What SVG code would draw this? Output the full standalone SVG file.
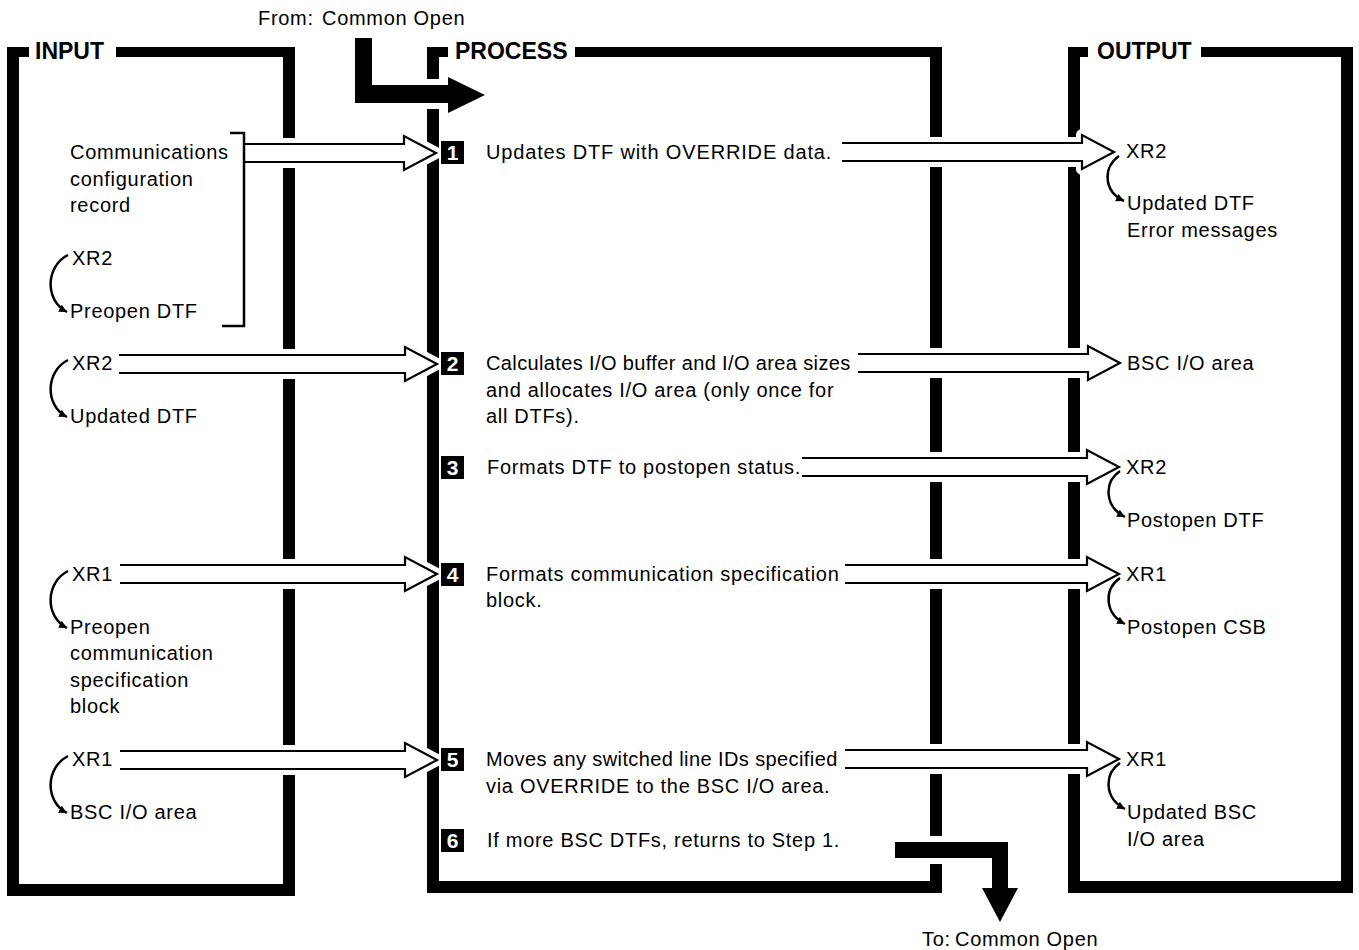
<svg xmlns="http://www.w3.org/2000/svg" width="1359" height="950" viewBox="0 0 1359 950">
<defs>
<style>
.t{font-family:"Liberation Sans",Arial,Helvetica,sans-serif;font-size:20px;letter-spacing:0.7px;fill:#000}
.h{font-family:"Liberation Sans",Arial,Helvetica,sans-serif;font-size:23px;font-weight:bold;fill:#000}
.n{font-family:"Liberation Sans",Arial,Helvetica,sans-serif;font-size:21px;font-weight:bold;fill:#fff;text-anchor:middle}
.bar{fill:#000}
.halo{fill:#fff;stroke:#fff;stroke-width:12;stroke-linejoin:round;stroke-linecap:round}
.hollow{fill:#fff;stroke:#000;stroke-width:2.2;stroke-linejoin:miter}
.solid{fill:#000;stroke:none}
.curve{fill:none;stroke:#000;stroke-width:2.5;marker-end:url(#ah)}
.brk{fill:none;stroke:#000;stroke-width:2.5}
.nb{fill:#000}
</style>
<marker id="ah" markerUnits="userSpaceOnUse" markerWidth="10" markerHeight="10" refX="8" refY="4" orient="auto">
<path d="M0,0 L8,4 L0,8 Z" fill="#000"/>
</marker>
</defs>
<rect width="1359" height="950" fill="#fff"/>

<g id="input">
<rect class="bar" x="7" y="47" width="12" height="849"/>
<rect class="bar" x="7" y="47" width="22" height="10"/>
<rect class="bar" x="116" y="47" width="179" height="10"/>
<rect class="bar" x="283" y="47" width="12" height="849"/>
<rect class="bar" x="7" y="884" width="288" height="12"/>
</g>
<g id="process">
<rect class="bar" x="427" y="47" width="12" height="846"/>
<rect class="bar" x="427" y="47" width="21" height="10"/>
<rect class="bar" x="575" y="47" width="367" height="10"/>
<rect class="bar" x="930" y="47" width="12" height="846"/>
<rect class="bar" x="427" y="881" width="515" height="12"/>
</g>
<g id="output">
<rect class="bar" x="1068" y="47" width="12" height="846"/>
<rect class="bar" x="1068" y="47" width="20" height="10"/>
<rect class="bar" x="1201" y="47" width="152" height="10"/>
<rect class="bar" x="1341" y="47" width="12" height="846"/>
<rect class="bar" x="1068" y="881" width="285" height="12"/>
</g>

<g id="connectors">
<g id="halos">
<path class="halo" d="M 355 38 H 372 V 85 H 448 V 77 L 485 95 L 448 113 V 103 H 355 Z"/>
<path class="halo" d="M 895 842 H 1008 V 888 H 1018 L 1000 922 L 982 888 H 992 V 858 H 895 Z"/>
<path class="halo" d="M 244 144 H 404 V 136 L 436 153 L 404 170 V 162 H 244"/>
<path class="halo" d="M 842 143 H 1082 V 135 L 1114 152 L 1082 169 V 161 H 842"/>
<path class="halo" d="M 119 355 H 405 V 347 L 437 364 L 405 381 V 373 H 119"/>
<path class="halo" d="M 858 354 H 1088 V 346 L 1120 363 L 1088 380 V 372 H 858"/>
<path class="halo" d="M 802 458 H 1087 V 450 L 1119 467 L 1087 484 V 476 H 802"/>
<path class="halo" d="M 845 565 H 1087 V 557 L 1119 574 L 1087 591 V 583 H 845"/>
<path class="halo" d="M 120 565 H 405 V 557 L 437 574 L 405 591 V 583 H 120"/>
<path class="halo" d="M 120 751 H 405 V 743 L 437 760 L 405 777 V 769 H 120"/>
<path class="halo" d="M 845 750 H 1087 V 742 L 1119 759 L 1087 776 V 768 H 845"/>
</g>
<path class="solid" d="M 355 38 H 372 V 85 H 448 V 77 L 485 95 L 448 113 V 103 H 355 Z"/>
<path class="solid" d="M 895 842 H 1008 V 888 H 1018 L 1000 922 L 982 888 H 992 V 858 H 895 Z"/>
<path class="hollow" d="M 244 144 H 404 V 136 L 436 153 L 404 170 V 162 H 244"/>
<path class="hollow" d="M 842 143 H 1082 V 135 L 1114 152 L 1082 169 V 161 H 842"/>
<path class="hollow" d="M 119 355 H 405 V 347 L 437 364 L 405 381 V 373 H 119"/>
<path class="hollow" d="M 858 354 H 1088 V 346 L 1120 363 L 1088 380 V 372 H 858"/>
<path class="hollow" d="M 802 458 H 1087 V 450 L 1119 467 L 1087 484 V 476 H 802"/>
<path class="hollow" d="M 120 565 H 405 V 557 L 437 574 L 405 591 V 583 H 120"/>
<path class="hollow" d="M 845 565 H 1087 V 557 L 1119 574 L 1087 591 V 583 H 845"/>
<path class="hollow" d="M 120 751 H 405 V 743 L 437 760 L 405 777 V 769 H 120"/>
<path class="hollow" d="M 845 750 H 1087 V 742 L 1119 759 L 1087 776 V 768 H 845"/>
<path class="brk" d="M 230 133 H 244 V 326 H 222"/>
<path class="curve" d="M 68 255 C 46 266, 44 300, 67 312"/>
<path class="curve" d="M 68 360 C 46 371, 44 405, 67 417"/>
<path class="curve" d="M 68 571 C 46 582, 44 616, 67 628"/>
<path class="curve" d="M 68 756 C 46 767, 44 801, 67 813"/>
<path class="curve" d="M 1119 156 C 1103 167, 1103 191, 1124 201"/>
<path class="curve" d="M 1120 471 C 1104 482, 1104 506, 1125 517"/>
<path class="curve" d="M 1120 578 C 1104 589, 1104 613, 1125 624"/>
<path class="curve" d="M 1120 763 C 1104 774, 1104 798, 1125 809"/>
</g>

<g id="headers">
<text class="h" x="35" y="59">INPUT</text>
<text class="h" x="455" y="59">PROCESS</text>
<text class="h" x="1097" y="59">OUTPUT</text>
</g>

<g id="from">
<text class="t" x="258" y="25">From:</text>
<text class="t" x="322" y="25">Common Open</text>
</g>
<g id="to">
<text class="t" x="922" y="946">To:</text>
<text class="t" x="955" y="946">Common Open</text>
</g>

<g id="input-items">
<text class="t" x="70" y="159">Communications</text>
<text class="t" x="70" y="186">configuration</text>
<text class="t" x="70" y="212">record</text>
<text class="t" x="72" y="265">XR2</text>
<text class="t" x="70" y="318">Preopen DTF</text>
<text class="t" x="72" y="370">XR2</text>
<text class="t" x="70" y="423">Updated DTF</text>
<text class="t" x="72" y="581">XR1</text>
<text class="t" x="70" y="634">Preopen</text>
<text class="t" x="70" y="660">communication</text>
<text class="t" x="70" y="687">specification</text>
<text class="t" x="70" y="713">block</text>
<text class="t" x="72" y="766">XR1</text>
<text class="t" x="70" y="819">BSC I/O area</text>
</g>

<g id="step1">
<rect class="nb" x="441" y="141" width="23" height="23"/>
<text class="n" x="452.5" y="160">1</text>
<text class="t" x="486" y="159" textLength="346" lengthAdjust="spacing">Updates DTF with OVERRIDE data.</text>
</g>
<g id="step2">
<rect class="nb" x="441" y="352" width="23" height="23"/>
<text class="n" x="452.5" y="371">2</text>
<text class="t" x="486" y="370" textLength="365" lengthAdjust="spacing">Calculates I/O buffer and I/O area sizes</text>
<text class="t" x="486" y="397">and allocates I/O area (only once for</text>
<text class="t" x="486" y="423">all DTFs).</text>
</g>
<g id="step3">
<rect class="nb" x="441" y="456" width="23" height="23"/>
<text class="n" x="452.5" y="475">3</text>
<text class="t" x="487" y="474">Formats DTF to postopen status.</text>
</g>
<g id="step4">
<rect class="nb" x="441" y="563" width="23" height="23"/>
<text class="n" x="452.5" y="582">4</text>
<text class="t" x="486" y="581">Formats communication specification</text>
<text class="t" x="486" y="607">block.</text>
</g>
<g id="step5">
<rect class="nb" x="441" y="748" width="23" height="23"/>
<text class="n" x="452.5" y="767">5</text>
<text class="t" x="486" y="766" textLength="352" lengthAdjust="spacing">Moves any switched line IDs specified</text>
<text class="t" x="486" y="793">via OVERRIDE to the BSC I/O area.</text>
</g>
<g id="step6">
<rect class="nb" x="441" y="829" width="23" height="23"/>
<text class="n" x="452.5" y="848">6</text>
<text class="t" x="487" y="847">If more BSC DTFs, returns to Step 1.</text>
</g>

<g id="output-items">
<text class="t" x="1126" y="158">XR2</text>
<text class="t" x="1127" y="210">Updated DTF</text>
<text class="t" x="1127" y="237">Error messages</text>
<text class="t" x="1127" y="370">BSC I/O area</text>
<text class="t" x="1126" y="474">XR2</text>
<text class="t" x="1127" y="527">Postopen DTF</text>
<text class="t" x="1126" y="581">XR1</text>
<text class="t" x="1127" y="634">Postopen CSB</text>
<text class="t" x="1126" y="766">XR1</text>
<text class="t" x="1127" y="819">Updated BSC</text>
<text class="t" x="1127" y="846">I/O area</text>
</g>
</svg>
